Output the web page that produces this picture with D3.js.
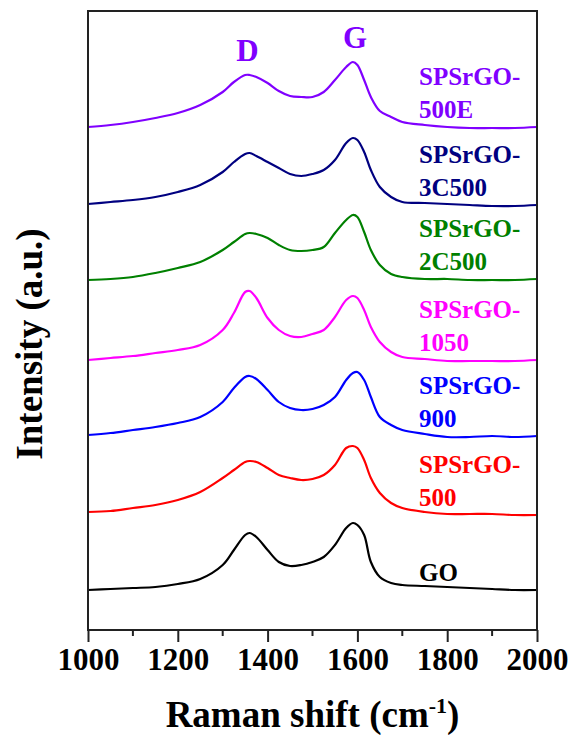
<!DOCTYPE html>
<meta charset="utf-8" />
<script src="https://d3js.org/d3.v7.min.js"></script>
<style>
  body { margin: 0; background: #fff; }
  text { font-family: "Liberation Serif", "Times New Roman", serif; font-weight: bold; }
</style>
<svg id="chart" width="575" height="735"></svg>
<script>
  // Raman shift (cm-1) sample points
  var shift = [1000, 1050, 1100, 1150, 1200, 1250, 1300, 1325, 1350, 1360, 1375, 1400, 1425, 1450, 1475, 1500,
    1525, 1550, 1575, 1590, 1600, 1615, 1630, 1650, 1675, 1700, 1750, 1800, 1850, 1900, 1950, 2000];

  // intensities (a.u.), already stacked
  var go = [40, 41, 42, 43, 46, 51, 65, 80, 95, 97, 93, 80, 68, 64, 65, 68,
    73, 85, 102, 107, 105, 95, 68, 53, 47, 45, 44, 43, 42, 41, 40, 40];
  var s500 = [118, 119, 122, 125, 130, 138, 152, 160, 168, 169, 168, 162, 155, 152, 150, 151,
    155, 165, 182, 184, 182, 170, 152, 137, 127, 122, 118, 116, 116, 116, 115, 115];
  var s900 = [195, 197, 200, 203, 207, 213, 228, 242, 253, 254, 251, 240, 228, 222, 220, 221,
    225, 233, 250, 257, 258, 250, 233, 213, 205, 200, 196, 193, 193, 194, 193, 194];
  var s1050 = [270, 272, 274, 277, 280, 285, 300, 317, 338, 339, 332, 312, 300, 294, 293, 296,
    300, 313, 330, 334, 332, 320, 303, 288, 278, 273, 271, 269, 269, 269, 269, 270];
  var s2c500 = [350, 351, 353, 357, 362, 368, 380, 388, 396, 397, 396, 392, 385, 380, 379, 380,
    383, 397, 410, 415, 413, 398, 380, 365, 356, 353, 351, 351, 350, 350, 350, 351];
  var s3c500 = [426, 428, 430, 433, 438, 445, 458, 468, 476, 477, 474, 468, 462, 456, 454, 456,
    460, 470, 487, 492, 490, 478, 460, 443, 433, 428, 427, 426, 425, 424, 424, 425];
  var s500e = [503, 505, 508, 512, 517, 525, 538, 548, 555, 555, 553, 547, 539, 534, 533, 533,
    538, 550, 563, 568, 565, 550, 533, 519, 513, 508, 505, 503, 502, 502, 502, 503];

  var series = [go, s500, s900, s1050, s2c500, s3c500, s500e];
  var labels = [["GO"], ["SPSrGO-", "500"], ["SPSrGO-", "900"], ["SPSrGO-", "1050"],
    ["SPSrGO-", "2C500"], ["SPSrGO-", "3C500"], ["SPSrGO-", "500E"]];
  var colors = ["#000000", "#ff0000", "#0000ff", "#ff00ff", "#008000", "#000080", "#8000ff"];

  var peaks = [["D", 1355], ["G", 1595]];
  var xTicks = [1000, 1200, 1400, 1600, 1800, 2000];
  var xMinor = [1100, 1300, 1500, 1700, 1900];

  var svg = d3.select("#chart");
  var plotL = 88, plotR = 537, plotT = 11, plotB = 630;

  var x = d3.scaleLinear().domain([1000, 2000]).range([plotL, plotR]);
  var y = d3.scaleLinear().domain([0, 619]).range([plotB, plotT]);

  var line = d3.line()
    .x(function(d, i) { return x(shift[i]); })
    .y(function(d) { return y(d); })
    .curve(d3.curveCatmullRom.alpha(0.5));

  // spectra
  svg.append("g")
    .selectAll("path")
    .data(series)
    .enter()
    .append("path")
    .attr("d", line)
    .attr("fill", "none")
    .attr("stroke", function(d, i) { return colors[i]; })
    .attr("stroke-width", 2.2)
    .attr("stroke-linejoin", "round");

  // sample names, last line sits just above the tail of each curve
  series.forEach(function(s, i) {
    var base = y(s[s.length - 1]) - 9;
    var lines = labels[i];
    var t = svg.append("text")
      .attr("fill", colors[i])
      .style("font-size", "25px");
    lines.forEach(function(l, j) {
      t.append("tspan")
        .attr("x", 419)
        .attr("y", base - (lines.length - 1 - j) * 33)
        .text(l);
    });
  });

  // D and G band labels above the top spectrum
  peaks.forEach(function(p) {
    var i = d3.minIndex(shift, function(v) { return Math.abs(v - p[1]); });
    svg.append("text")
      .attr("x", x(p[1]))
      .attr("y", y(s500e[i]) - 14)
      .attr("text-anchor", "middle")
      .attr("fill", "#8000ff")
      .style("font-size", "31px")
      .text(p[0]);
  });

  // frame
  svg.append("rect")
    .attr("x", plotL).attr("y", plotT)
    .attr("width", plotR - plotL).attr("height", plotB - plotT)
    .attr("fill", "none")
    .attr("stroke", "#222")
    .attr("stroke-width", 2);

  // bottom axis
  var ax = svg.append("g")
    .attr("transform", "translate(0," + plotB + ")")
    .call(d3.axisBottom(x).tickValues(xTicks).tickFormat(d3.format("d"))
      .tickSize(12).tickSizeOuter(0).tickPadding(6));
  ax.select(".domain").remove();
  ax.selectAll(".tick line").attr("stroke", "#222").attr("stroke-width", 2);
  ax.selectAll(".tick text")
    .attr("fill", "#000")
    .style("font-size", "31px")
    .style("font-family", "'Liberation Serif', 'Times New Roman', serif")
    .style("font-weight", "bold");

  svg.append("g")
    .selectAll("line")
    .data(xMinor)
    .enter()
    .append("line")
    .attr("x1", function(d) { return x(d); })
    .attr("x2", function(d) { return x(d); })
    .attr("y1", plotB)
    .attr("y2", plotB + 6)
    .attr("stroke", "#222")
    .attr("stroke-width", 2);

  // axis titles
  var xt = svg.append("text")
    .attr("x", (plotL + plotR) / 2)
    .attr("y", 727)
    .attr("text-anchor", "middle")
    .style("font-size", "37px")
    .text("Raman shift (cm");
  xt.append("tspan").attr("dy", -14).style("font-size", "22px").text("-1");
  xt.append("tspan").attr("dy", 14).text(")");

  svg.append("text")
    .attr("transform", "translate(42,344) rotate(-90)")
    .attr("text-anchor", "middle")
    .style("font-size", "37px")
    .text("Intensity (a.u.)");
</script>
